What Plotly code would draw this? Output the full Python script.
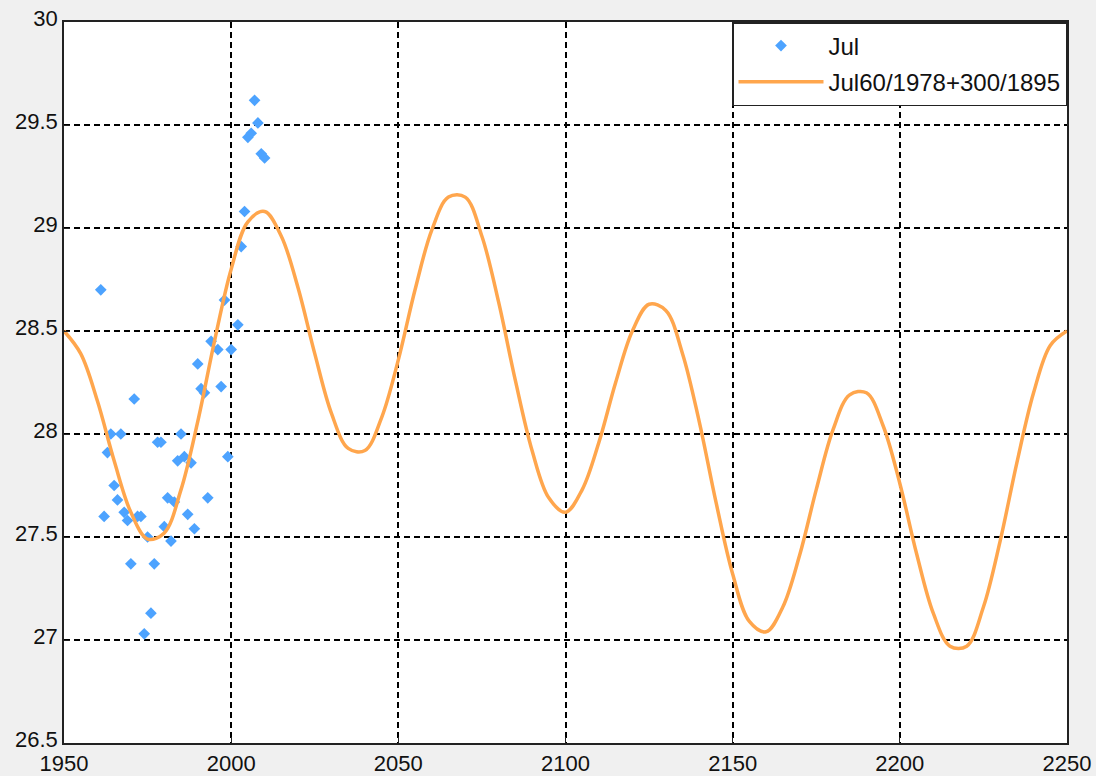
import plotly.graph_objects as go

# Observed July values
obs_years = [1961, 1962, 1963, 1964, 1965, 1966, 1967, 1968, 1969, 1970,
             1971, 1972, 1973, 1974, 1975, 1976, 1977, 1978, 1979, 1980,
             1981, 1982, 1983, 1984, 1985, 1986, 1987, 1988, 1989, 1990,
             1991, 1992, 1993, 1994, 1996, 1997, 1998, 1999, 2000, 2002,
             2003, 2004, 2005, 2006, 2007, 2008, 2009, 2010]
obs_values = [28.70, 27.60, 27.91, 28.00, 27.75, 27.68, 28.00, 27.62, 27.58, 27.37,
              28.17, 27.60, 27.60, 27.03, 27.50, 27.13, 27.37, 27.96, 27.96, 27.55,
              27.69, 27.48, 27.67, 27.87, 28.00, 27.89, 27.61, 27.86, 27.54, 28.34,
              28.22, 28.20, 27.69, 28.45, 28.41, 28.23, 28.65, 27.89, 28.41, 28.53,
              28.91, 29.08, 29.44, 29.46, 29.62, 29.51, 29.36, 29.34]

# Fitted 60-year + 300-year cycle curve, sampled every 5 years
fit_years = list(range(1950, 2251, 5))
fit_values = [28.50, 28.39, 28.16, 27.87, 27.62, 27.49, 27.52, 27.73, 28.06, 28.45,
              28.80, 29.03, 29.08, 28.96, 28.71, 28.39, 28.10, 27.93, 27.92, 28.08,
              28.36, 28.70, 28.99, 29.15, 29.15, 28.96, 28.64, 28.26, 27.92, 27.69,
              27.62, 27.73, 27.96, 28.25, 28.50, 28.63, 28.60, 28.39, 28.06, 27.67,
              27.32, 27.09, 27.04, 27.16, 27.41, 27.73, 28.02, 28.19, 28.20, 28.04,
              27.76, 27.42, 27.13, 26.97, 26.97, 27.16, 27.48, 27.86, 28.20, 28.43,
              28.50]

x_ticks = [1950, 2000, 2050, 2100, 2150, 2200, 2250]
y_ticks = [26.5, 27, 27.5, 28, 28.5, 29, 29.5, 30]
y_tick_text = ["26.5", "27", "27.5", "28", "28.5", "29", "29.5", "30"]

FONT = "Liberation Sans, Arial, sans-serif"

fig = go.Figure()
fig.add_trace(go.Scatter(
    x=obs_years, y=obs_values, mode="markers", name="Jul",
    legendgroup="a",
    marker=dict(symbol="diamond", size=9, color="#4da3ff", line=dict(width=0)),
))
fig.add_trace(go.Scatter(
    x=fit_years, y=fit_values, mode="lines", name="Jul60/1978+300/1895",
    legendgroup="b",
    line=dict(color="#ffa64d", width=3.5, shape="spline", smoothing=1.0),
))

axis_common = dict(
    showgrid=True, gridcolor="black", gridwidth=1.6, griddash="6px,4px",
    showline=True, mirror=True, linecolor="#222", linewidth=1.5,
    ticks="inside", ticklen=6, tickcolor="#222", zeroline=False,
    automargin=False,
)

fig.update_xaxes(range=[1950, 2250], tickvals=x_ticks, ticklabelstandoff=0,
                 tickfont=dict(family=FONT, size=22, color="#111"),
                 **axis_common)
fig.update_yaxes(range=[26.5, 30], tickvals=y_ticks, ticktext=y_tick_text,
                 ticklabelshift=-4,
                 tickfont=dict(family=FONT, size=22, color="#111"),
                 **axis_common)

fig.update_layout(
    width=1096, height=776,
    margin=dict(l=64, r=29, t=22, b=33, autoexpand=False),
    paper_bgcolor="#f0f0f0", plot_bgcolor="white",
    showlegend=True,
    legend=dict(
        x=1, y=1, xanchor="right", yanchor="top",
        bgcolor="white", bordercolor="#222", borderwidth=1.5,
        font=dict(family=FONT, size=24, color="#111"),
        traceorder="grouped", tracegroupgap=2, itemwidth=85,
    ),
)

fig.write_html("out.html")
